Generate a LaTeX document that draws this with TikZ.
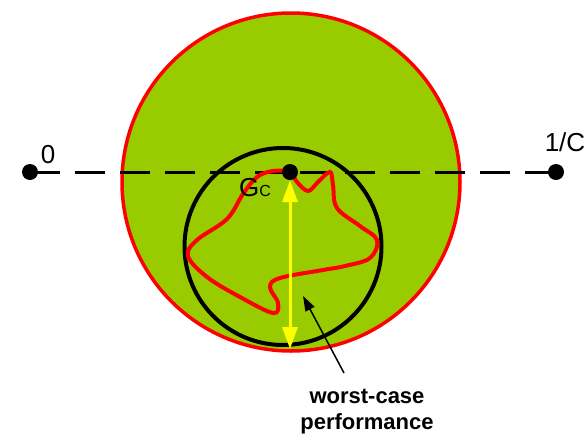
\documentclass[tikz,border=0pt]{standalone}
\usepackage{fontspec}
\setmainfont{Liberation Sans}
\usetikzlibrary{arrows.meta,positioning}

\definecolor{discgreen}{RGB}{153,204,0}
\definecolor{rimred}{RGB}{255,0,0}
\definecolor{spanyellow}{RGB}{255,255,0}

\tikzset{
  dot/.style={circle,fill=black,inner sep=0pt,minimum size=16pt},
  lbl/.style={font=\fontsize{26}{30}\selectfont,inner sep=0pt},
  note/.style={font=\bfseries\fontsize{22}{26}\selectfont,align=center,inner sep=0pt}
}

\begin{document}
\begin{tikzpicture}[x=1pt,y=-1pt]
    \useasboundingbox (0,0) rectangle (587,437);
    % uncertainty disc
    \draw[rimred,line width=3.5pt,fill=discgreen] (291,182) circle (169);
    % axis
    \draw[dashed,dash pattern=on 30pt off 15pt,line width=3pt] (30,172) -- (556,172);
    % worst-case circle
    \draw[line width=4pt] (283,246.5) circle (98.5);
    % perturbed response
    \draw[rimred,line width=4pt] plot[smooth cycle,tension=0.6] coordinates {
        (290,172) (297,182) (308,191) (318,182) (330,172) (333,185)
        (337,208) (360,226) (377,240) (370,258) (345,266) (323,270)
        (280,278) (270,287) (278,303) (273,313) (240,297) (207,277)
        (188,256) (197,240) (227,219) (243,194) (257,177) (273,171)};

    \node[dot] (zero) at (30,172) {};
    \node[dot] (inv) at (556,172) {};
    \node[dot] (gc) at (290,172) {};
    \coordinate (low) at (290,349);

    \draw[spanyellow,line width=3pt,{Triangle[width=15pt,length=22pt]}-{Triangle[width=15pt,length=22pt]}]
        (gc.south) -- (low);

    \node[lbl] (zerolbl) at (48,155) {0};
    \node[lbl] (invlbl) at (565,142) {1/C};
    \node[lbl,anchor=base west] (gclbl) at (239,196) {G{\fontsize{16}{18}\selectfont C}};

    \node[note] (worst) at (367,412) {worst-case\\performance};
    \coordinate (tip) at (303,296);
    \draw[line width=1.5pt,-{Triangle[width=10pt,length=15pt]}] (344,373) -- (tip);
\end{tikzpicture}
\end{document}
